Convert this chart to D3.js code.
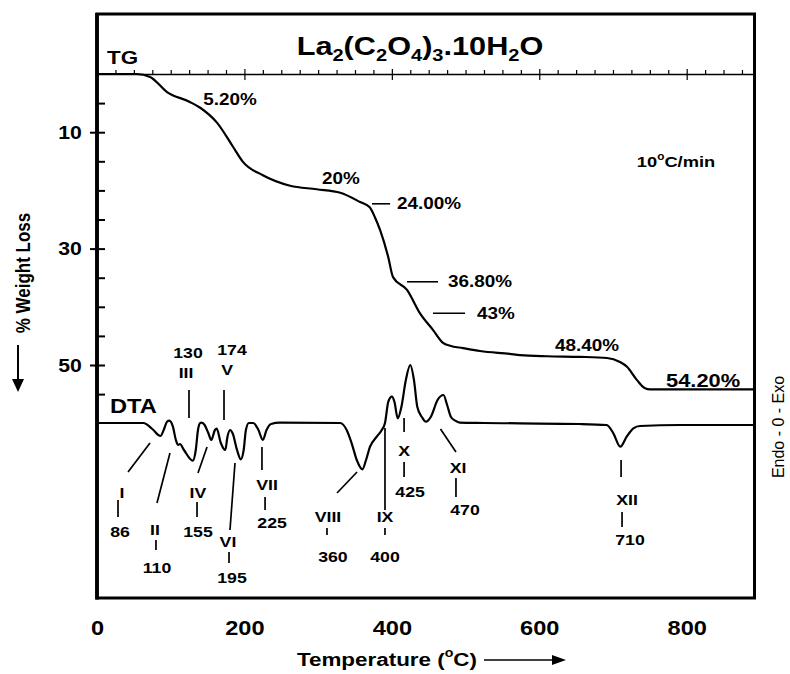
<!DOCTYPE html>
<html>
<head>
<meta charset="utf-8">
<script src="https://cdn.jsdelivr.net/npm/d3@7"></script>
<style>
  body { margin: 0; background: #fff; }
  svg { display: block; }
  text { font-family: "Liberation Sans", Arial, Helvetica, sans-serif; fill: #000; }
</style>
</head>
<body>
<svg id="chart" width="790" height="674"></svg>
<script>
// ---- Thermogravimetric (TG) curve: temperature (°C) vs % weight loss ----
const tgTemp = [0, 54, 72, 95, 126, 140, 163, 184.5, 198, 225, 262, 298, 330, 357, 370, 377, 384, 395, 401.6, 420.6,
                438, 456, 469.5, 479, 496.5, 519.6, 560, 574, 610.6, 655, 692, 709.5, 719, 732.6, 743.5, 750.3, 892];
const tgLoss = [0, 0, 0.5, 3.1, 4.8, 5.8, 8.4, 12.5, 15.1, 17.4, 19.2, 19.8, 20.4, 22.0, 22.9, 24.6, 26.8, 31.4, 34.9, 37.1,
                41.1, 44.0, 46.2, 46.7, 47.1, 47.6, 48.1, 48.3, 48.5, 48.6, 48.8, 49.5, 50.3, 52.6, 54.0, 54.2, 54.2];

// ---- Differential thermal analysis (DTA) trace: temperature (°C) vs signal (exo up) ----
const dtaTemp = [0, 63, 75, 86, 91, 95, 98, 103, 107, 110, 112.5, 118, 130, 134, 137, 140, 142, 146, 151, 155,
                 160, 162.4, 168, 174, 177, 180.5, 184, 190, 195, 199, 202, 206, 212, 219, 225, 230, 236, 248, 330, 338.7,
                 345.5, 352.4, 360, 365, 370.4, 379.5, 386.3, 390.7, 395.2, 400, 403.5, 408, 413, 419, 425, 430, 434.5, 441, 446, 453,
                 462, 470, 475, 480, 486, 492, 525, 655, 691.5, 700.5, 710, 718.6, 727.7, 736.7, 791, 892];
const dtaSignal = [0, 0, -6, -13, -6, 1.3, 2.3, -3.7, -17, -22, -21, -27, -37.7, -27, -7, 0, 0.3, -2, -10, -17,
                   -7, -5.7, -20, -27, -13.7, -7, -10.3, -27, -36.3, -27, -7, 0, 0, -7, -17, -7, -1, 0.3, 0, -7,
                   -20.3, -37, -46.3, -37, -23.7, -13.7, -7, 0, 21.3, 26.3, 21.3, 4.7, 16.3, 43, 58, 43, 16.3, 5.7, 1.3, 6.3,
                   23, 28, 18, 6.3, 2.3, 0.3, 0, -1, -2, -10.3, -23.7, -13.7, -5.3, -3, -2, -2];

// DTA thermal events and their peak temperatures (°C)
const peakNames = ["I", "II", "III", "IV", "V", "VI", "VII", "VIII", "IX", "X", "XI", "XII"];
const peakTemps = [86, 110, 130, 155, 174, 195, 225, 360, 400, 425, 470, 710];

// Weight-loss steps marked on the TG curve
const tgStepLabels = ["5.20%", "20%", "24.00%", "36.80%", "43%", "48.40%", "54.20%"];

// Axis ticks
const xTickLabels = [0, 200, 400, 600, 800];
const yTickLabels = [10, 30, 50];

// ---- Annotation placement, in data units (°C, DTA signal / % loss) ----
const peakLayout = [
  { lead: [[71.9, -20], [42.1, -49]], name: [34, -70], tick: [28.5, -77, -94], value: [31.2, -109] },
  { lead: [[99, -30], [81.4, -80]], name: [78.6, -107], tick: [80, -117, -127], value: [81.4, -145] },
  { lead: [[124.8, 33], [124.8, 5]], name: [120.8, 50], value: [123.4, 70] },
  { lead: [[149.3, -24], [137, -50]], name: [137, -70], tick: [135.7, -79, -94], value: [137, -109] },
  { lead: [[172.3, 33], [172.3, 3]], name: [176.4, 53], value: [183.2, 73] },
  { lead: [[187.2, -40], [180.4, -107]], name: [177.7, -119], tick: [179.1, -129, -140], value: [183.2, -155] },
  { lead: [[223.8, -24], [223.8, -47]], name: [230.6, -62], tick: [228, -74, -87], value: [237.5, -100] },
  { lead: [[352.8, -49], [325.6, -70]], name: [313.4, -94], tick: [312, -105, -112], value: [320.1, -134] },
  { lead: [[390.7, -5], [390.7, -87]], name: [390.7, -94], tick: [390.7, -105, -112], value: [390.7, -134] },
  { lead: [[416.6, 5], [416.6, -9]], name: [416.6, -28], tick: [416.6, -39, -54], value: [424.7, -69] },
  { lead: [[466, -6], [487, -29]], name: [489.8, -45], tick: [487, -55, -74], value: [499.3, -87] },
  { lead: [[711, -37], [711, -54]], name: [719, -77], tick: [712.3, -89, -104], value: [723.1, -117] }
];
const stepLayout = [
  { at: [180.4, 4.3], anchor: "middle", size: 16 },
  { at: [331, 17.9], anchor: "middle", size: 16 },
  { at: [407.1, 22.3], anchor: "start", size: 16, lead: [373.1, 397.6] },
  { at: [476.2, 35.7], anchor: "start", size: 16, lead: [420.6, 462.6] },
  { at: [515.5, 41.1], anchor: "start", size: 16, lead: [455.8, 499.3] },
  { at: [664.8, 46.6], anchor: "middle", size: 16 },
  { at: [822.2, 52.6], anchor: "middle", size: 18.5 }
];

// ---- Geometry ----
const W = 790, H = 674;
const frame = { left: 97, right: 754.5, top: 14, bottom: 598 };
const SX = 1.18;          // horizontal stretch of the lettering
const FONT = '"Liberation Sans", Arial, Helvetica, sans-serif';

const svg = d3.select("#chart");
svg.append("rect").attr("width", W).attr("height", H).attr("fill", "#fff");

const x = d3.scaleLinear().domain([0, 892]).range([frame.left, frame.right]);
const yTG = d3.scaleLinear().domain([0, 50]).range([74, 365]);
const yDTA = d3.scaleLinear().domain([-100, 100]).range([523, 323]);

function label(g, px, py, str, size, anchor = "middle", weight = "bold") {
  return g.append("text")
    .attr("transform", `translate(${px},${py}) scale(${SX},1)`)
    .attr("text-anchor", anchor)
    .attr("dy", "0.35em")
    .attr("font-size", size)
    .attr("font-weight", weight)
    .text(str);
}

// ---- Frame ----
svg.append("rect")
  .attr("x", frame.left).attr("y", frame.top)
  .attr("width", frame.right - frame.left).attr("height", frame.bottom - frame.top)
  .attr("fill", "none").attr("stroke", "#000").attr("stroke-width", 3);
svg.append("line")
  .attr("x1", frame.left).attr("x2", frame.left)
  .attr("y1", frame.top - 1).attr("y2", frame.bottom + 1.5)
  .attr("stroke", "#000").attr("stroke-width", 3.8);

// ---- TG zero line with temperature ticks ----
const topAxis = d3.axisTop(x).tickValues(d3.range(0, 892, 25)).tickSize(4).tickSizeOuter(0).tickFormat("");
const gTop = svg.append("g").attr("transform", `translate(0,${yTG(0)})`).call(topAxis);
gTop.select(".domain").attr("stroke-width", 1.4);
gTop.selectAll(".tick line").attr("stroke-width", 1.2)
  .filter(d => d > 0 && d % 200 === 0).attr("y1", 6).attr("y2", -5);
gTop.selectAll(".tick text").remove();

// ---- % weight loss axis ----
const leftAxis = d3.axisLeft(yTG).tickValues(d3.range(5, 56, 5)).tickSize(0)
  .tickFormat(d => yTickLabels.includes(d) ? d : "");
const gLeft = svg.append("g").attr("transform", `translate(${frame.left},0)`).call(leftAxis)
  .attr("font-family", FONT).attr("font-size", 18).attr("font-weight", "bold");
gLeft.select(".domain").remove();
gLeft.selectAll(".tick line").attr("stroke-width", 2)
  .attr("x1", 8).attr("x2", d => yTickLabels.includes(d) ? -7 : 0);
gLeft.selectAll(".tick text")
  .attr("x", -27 / SX).attr("dy", "0.35em").attr("text-anchor", "middle")
  .attr("transform", `scale(${SX},1)`);

// ---- Temperature axis labels ----
const bottomAxis = d3.axisBottom(x).tickValues(xTickLabels).tickSize(0);
const gBottom = svg.append("g").attr("transform", `translate(0,${frame.bottom})`).call(bottomAxis)
  .attr("font-family", FONT).attr("font-size", 20).attr("font-weight", "bold");
gBottom.select(".domain").remove();
gBottom.selectAll(".tick text").attr("y", 30).attr("dy", "0.35em").attr("transform", `scale(${SX},1)`);

// ---- Curves ----
const tgData = tgTemp.map((t, i) => ({ t, v: tgLoss[i] }));
const dtaData = dtaTemp.map((t, i) => ({ t, v: dtaSignal[i] }));

svg.append("path").datum(tgData)
  .attr("d", d3.line().x(d => x(d.t)).y(d => yTG(d.v)).curve(d3.curveMonotoneX))
  .attr("fill", "none").attr("stroke", "#000").attr("stroke-width", 2.2).attr("stroke-linejoin", "round");

svg.append("path").datum(dtaData)
  .attr("d", d3.line().x(d => x(d.t)).y(d => yDTA(d.v)).curve(d3.curveMonotoneX))
  .attr("fill", "none").attr("stroke", "#000").attr("stroke-width", 2.2).attr("stroke-linejoin", "round");

// ---- Curve names ----
label(svg, x(13.6), yTG(-2.9), "TG", 19, "start");
label(svg, x(17.6), yDTA(17), "DTA", 20, "start");

// ---- Title: La2(C2O4)3.10H2O ----
const titleParts = [["La", 0], ["2", 1], ["(C", 0], ["2", 1], ["O", 0], ["4", 1], [")", 0], ["3", 1], [".10H", 0], ["2", 1], ["O", 0]];
const title = svg.append("text")
  .attr("transform", `translate(${x(438.2)},${yTG(-4.8) + 9}) scale(${SX},1)`)
  .attr("text-anchor", "middle").attr("font-weight", "bold").attr("font-size", 26);
let lowered = false;
titleParts.forEach(([s, sub]) => {
  const ts = title.append("tspan").text(s);
  if (sub) { ts.attr("font-size", 17); if (!lowered) { ts.attr("dy", 6); lowered = true; } }
  else if (lowered) { ts.attr("dy", -6); lowered = false; }
});

// ---- Heating rate ----
const rate = svg.append("text")
  .attr("transform", `translate(${x(785.5)},${yTG(15.1) + 5.5}) scale(${SX},1)`)
  .attr("text-anchor", "middle").attr("font-weight", "bold").attr("font-size", 15.5);
rate.append("tspan").text("10");
rate.append("tspan").text("o").attr("font-size", 10).attr("dy", -7);
rate.append("tspan").text("C/min").attr("dy", 7);

// ---- Weight-loss step annotations ----
const gSteps = svg.append("g");
tgStepLabels.forEach((s, i) => {
  const L = stepLayout[i];
  if (L.lead) {
    gSteps.append("line")
      .attr("x1", x(L.lead[0])).attr("x2", x(L.lead[1]))
      .attr("y1", yTG(L.at[1])).attr("y2", yTG(L.at[1]))
      .attr("stroke", "#000").attr("stroke-width", 1.6);
  }
  label(gSteps, x(L.at[0]), yTG(L.at[1]), s, L.size, L.anchor);
});

// ---- DTA peak annotations ----
const gPeaks = svg.append("g");
const seg = (t1, v1, t2, v2) => gPeaks.append("line")
  .attr("x1", x(t1)).attr("y1", yDTA(v1)).attr("x2", x(t2)).attr("y2", yDTA(v2))
  .attr("stroke", "#000").attr("stroke-width", 1.7);
peakNames.forEach((n, i) => {
  const L = peakLayout[i];
  seg(L.lead[0][0], L.lead[0][1], L.lead[1][0], L.lead[1][1]);
  if (L.tick) seg(L.tick[0], L.tick[1], L.tick[0], L.tick[2]);
  label(gPeaks, x(L.name[0]), yDTA(L.name[1]), n, 15);
  label(gPeaks, x(L.value[0]), yDTA(L.value[1]), String(peakTemps[i]), 15);
});

// ---- Axis titles ----
svg.append("text")
  .attr("transform", `translate(23,273) scale(${SX},1) rotate(-90)`)
  .attr("text-anchor", "middle").attr("dy", "0.35em")
  .attr("font-size", 17).attr("font-weight", "bold").text("% Weight Loss");
svg.append("line").attr("x1", 18).attr("x2", 18).attr("y1", 345).attr("y2", 381)
  .attr("stroke", "#000").attr("stroke-width", 2);
svg.append("path").attr("d", "M12,379 L24,379 L18,392 Z").attr("fill", "#000");

const tLabel = svg.append("text")
  .attr("transform", `translate(477,666) scale(${SX},1)`)
  .attr("text-anchor", "end").attr("font-weight", "bold").attr("font-size", 19);
tLabel.append("tspan").text("Temperature (");
tLabel.append("tspan").text("o").attr("font-size", 12).attr("dy", -9);
tLabel.append("tspan").text("C)").attr("dy", 9);
svg.append("line").attr("x1", 484).attr("x2", 554).attr("y1", 660).attr("y2", 660)
  .attr("stroke", "#000").attr("stroke-width", 1.6);
svg.append("path").attr("d", "M552,655 L566,660 L552,665 Z").attr("fill", "#000");

svg.append("text")
  .attr("transform", `translate(778,427) scale(1.08,1) rotate(-90)`)
  .attr("text-anchor", "middle").attr("dy", "0.35em")
  .attr("font-size", 16).text("Endo - 0 - Exo");
</script>
</body>
</html>
